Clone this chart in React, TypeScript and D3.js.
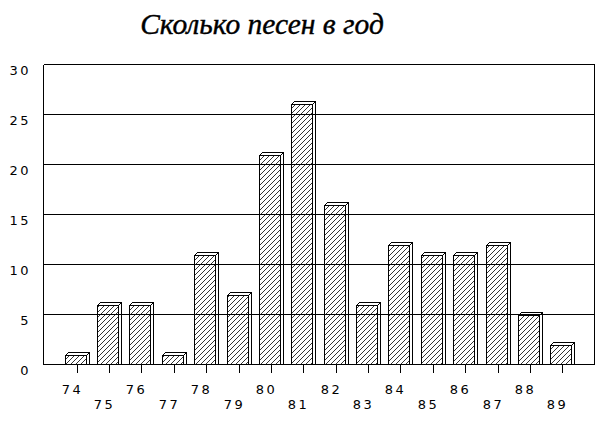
import React from "react";
import * as d3 from "d3";

const title = "Сколько песен в год";
const years = ["74","75","76","77","78","79","80","81","82","83","84","85","86","87","88","89"];
const songs = [1, 6, 6, 1, 11, 7, 21, 26, 16, 6, 12, 11, 11, 12, 5, 2];
const yTicks = [0, 5, 10, 15, 20, 25, 30];

const W = 611, H = 422;
const left = 43.5, right = 594.5, top = 64.5, bottom = 364.5;
const frontW = 21, depth = 3;

export default function App() {
  const x = d3.scaleBand<string>().domain(years).range([60.5, 578.5]).padding(0);
  const y = d3.scaleLinear().domain([0, 30]).range([bottom, top]);
  const cx = (k: string) => Math.round((x(k) as number) + x.bandwidth() / 2) + 0.5;
  const labelFont = "'DejaVu Sans', sans-serif";

  return (
    <svg width={W} height={H} style={{ position: "absolute", left: 0, top: 0, background: "#fff" }}>
      <defs>
        <pattern id="hatch" patternUnits="userSpaceOnUse" width={5} height={5}>
          <path d="M-1,1 L1,-1 M0,5 L5,0 M4,6 L6,4" stroke="#000" strokeWidth={0.8} />
        </pattern>
      </defs>
      <rect x={0} y={0} width={W} height={H} fill="#fff" />
      <text x={262} y={34} textAnchor="middle" fontFamily="'Liberation Serif', 'DejaVu Serif', serif"
        fontStyle="italic" fontWeight="normal" fontSize={29.5} fill="#000" stroke="#000" strokeWidth={0.4}>{title}</text>

      {/* bars */}
      {years.map((k, i) => {
        const c = cx(k);
        const x0 = c - 12;
        const x1 = x0 + frontW;
        const yt = Math.round(y(songs[i]) as number) + 0.5;
        const b = bottom;
        return (
          <g key={k} stroke="#000" strokeWidth={1} shapeRendering="crispEdges">
            <polygon points={`${x1},${yt} ${x1 + depth},${yt - depth} ${x1 + depth},${b} ${x1},${b}`} fill="#fff" />
            <polygon points={`${x0},${yt} ${x0 + depth},${yt - depth} ${x1 + depth},${yt - depth} ${x1},${yt}`} fill="#fff" />
            <rect x={x0} y={yt} width={frontW} height={b - yt} fill="#fff" />
            <rect x={x0} y={yt} width={frontW} height={b - yt} fill="url(#hatch)" shapeRendering="auto" stroke="none" />
            <rect x={x0} y={yt} width={frontW} height={b - yt} fill="none" />
          </g>
        );
      })}

      {/* gridlines drawn over bars */}
      {yTicks.map((t) => (
        <line key={t} x1={left} x2={right} y1={y(t)} y2={y(t)} stroke="#000" strokeWidth={1} shapeRendering="crispEdges" />
      ))}
      <line x1={left} x2={left} y1={top} y2={bottom} stroke="#000" shapeRendering="crispEdges" />
      <line x1={right} x2={right} y1={top} y2={bottom} stroke="#000" shapeRendering="crispEdges" />

      {/* y labels */}
      {yTicks.map((t) => (
        <text key={t} x={31} y={(y(t) as number) + 10.5} textAnchor="end" fontFamily={labelFont}
          fontSize={13} letterSpacing={2.5} fill="#000">{t}</text>
      ))}

      {/* x ticks and labels */}
      {years.map((k, i) => {
        const c = cx(k);
        return (
          <g key={k}>
            <line x1={c} x2={c} y1={bottom} y2={bottom + 8} stroke="#000" shapeRendering="crispEdges" />
            <text x={c - 15.8} y={i % 2 === 0 ? 393.5 : 408.5} fontFamily={labelFont} fontSize={13}
              letterSpacing={2.5} fill="#000">{k}</text>
          </g>
        );
      })}
    </svg>
  );
}
